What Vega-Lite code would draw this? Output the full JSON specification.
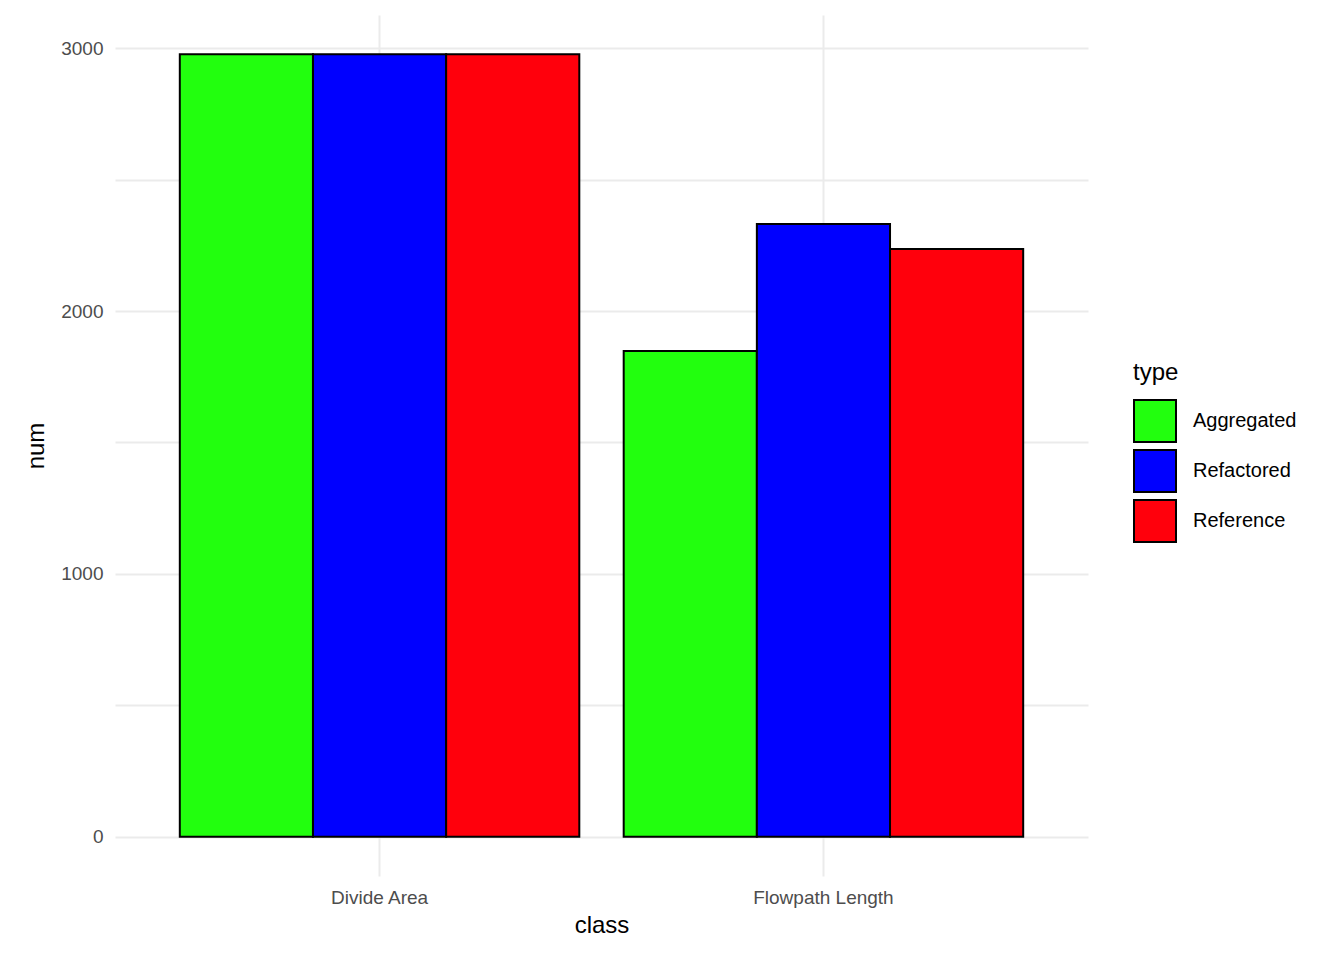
{
  "$schema": "https://vega.github.io/schema/vega-lite/v6.json",
  "width": 973,
  "height": 861,
  "autosize": "none",
  "padding": {"left": 115, "top": 15, "right": 256, "bottom": 84},
  "background": "white",
  "config": {"view": {"stroke": null}, "font": "Liberation Sans"},
  "data": {
    "values": [
      {"class": "Divide Area", "type": "Aggregated", "num": 2977},
      {"class": "Divide Area", "type": "Refactored", "num": 2977},
      {"class": "Divide Area", "type": "Reference", "num": 2977},
      {"class": "Flowpath Length", "type": "Aggregated", "num": 1848},
      {"class": "Flowpath Length", "type": "Refactored", "num": 2331},
      {"class": "Flowpath Length", "type": "Reference", "num": 2236}
    ]
  },
  "mark": {"type": "bar", "stroke": "black", "strokeWidth": 2},
  "encoding": {
    "x": {
      "field": "class", "type": "nominal",
      "scale": {"paddingInner": 0.1, "paddingOuter": 0.146},
      "axis": {"labelAngle": 0, "labelFontSize": 19, "labelColor": "#4d4d4d", "titleFontSize": 24, "titleFontWeight": "normal", "titlePadding": 6, "ticks": false, "domain": false, "grid": true, "bandPosition": 0.5, "gridColor": "#ebebeb", "gridWidth": 2, "labelPadding": 12}
    },
    "xOffset": {"field": "type", "type": "nominal", "scale": {"paddingInner": 0, "paddingOuter": 0}},
    "y": {
      "field": "num", "type": "quantitative",
      "scale": {"domain": [-149, 3126], "nice": false, "zero": false},
      "axis": {"values": [0, 500, 1000, 1500, 2000, 2500, 3000], "labelExpr": "datum.value % 1000 == 0 ? datum.label : ''", "format": "d", "labelFontSize": 19, "labelColor": "#4d4d4d", "titleFontSize": 24, "titleFontWeight": "normal", "titlePadding": 12, "ticks": false, "domain": false, "gridColor": "#ebebeb", "gridWidth": 2, "labelPadding": 12}
    },
    "color": {
      "field": "type", "type": "nominal",
      "scale": {"domain": ["Aggregated", "Refactored", "Reference"], "range": ["#22ff0e", "#0000ff", "#ff000c"]},
      "legend": {"orient": "none", "legendX": 1018, "legendY": 346, "title": "type", "titleFontSize": 24, "titleFontWeight": "normal", "titlePadding": 14, "labelFontSize": 20, "symbolType": "square", "symbolSize": 1764, "symbolStrokeColor": "black", "symbolStrokeWidth": 2, "symbolOpacity": 1, "rowPadding": 0, "labelOffset": 16}
    }
  }
}
